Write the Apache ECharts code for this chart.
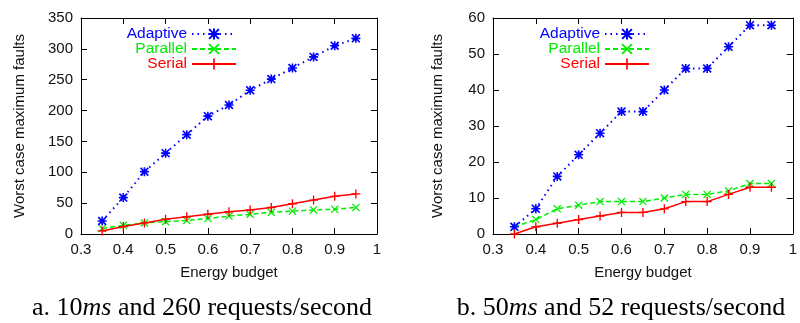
<!DOCTYPE html>
<html>
<head>
<meta charset="utf-8">
<script src="https://cdn.jsdelivr.net/npm/echarts@6/dist/echarts.min.js"></script>
<style>
html,body{margin:0;padding:0;background:#fff;}
#chart{width:800px;height:323px;}
</style>
</head>
<body>
<div id="chart"></div>
<script>
const energyBudget = [0.35, 0.4, 0.45, 0.5, 0.55, 0.6, 0.65, 0.7, 0.75, 0.8, 0.85, 0.9, 0.95];
// Panel a: 10ms and 260 requests/second
const adaptiveA = [21, 59, 101, 131, 161, 191, 209, 233, 251, 269, 287, 305, 317];
const parallelA = [9, 14, 18, 20, 22, 25, 29, 32, 35, 37, 39, 40, 43];
const serialA   = [5, 12, 18, 24, 28, 32, 36, 39, 43, 49, 55, 61, 65];
// Panel b: 50ms and 52 requests/second
const adaptiveB = [2, 7, 16, 22, 28, 34, 34, 40, 46, 46, 52, 58, 58];
const parallelB = [2, 4, 7, 8, 9, 9, 9, 10, 11, 11, 12, 14, 14];
const serialB   = [0, 2, 3, 4, 5, 6, 6, 7, 9, 9, 11, 13, 13];
const seriesNames = ['Adaptive', 'Parallel', 'Serial'];
const xAxisName = 'Energy budget';
const yAxisName = 'Worst case maximum faults';
const captionA = ['a. 10', 'ms', ' and 260 requests/second'];
const captionB = ['b. 50', 'ms', ' and 52 requests/second'];

const FONT = '"Liberation Sans", Arial, Helvetica, sans-serif';
const SERIF = '"Liberation Serif", "Times New Roman", serif';
const BLUE = '#0000ff', GREEN = '#00ee00', RED = '#ff0000';
const PLUS = 'path://M4.25,0H5.75V10H4.25Z M0,4.25H10V5.75H0Z';
const CROSS = 'path://M1.1,0L10,8.9L8.9,10L0,1.1Z M8.9,0L10,1.1L1.1,10L0,8.9Z';
const STAR = 'path://M4.1,0H5.9V10H4.1Z M0,4.1H10V5.9H0Z M1.3,0L10,8.7L8.7,10L0,1.3Z M8.7,0L10,1.3L1.3,10L0,8.7Z';

function pts(vals) { return energyBudget.map((x, i) => [x, vals[i]]); }
const fmtX = v => String(Number(v.toFixed(1)));

function xAx(gi, pos, main) {
  return {
    type: 'value', gridIndex: gi, position: pos, min: 0.3, max: 1, interval: 0.1,
    axisLine: { show: true, onZero: false, lineStyle: { color: '#000', width: 1 } },
    axisTick: { show: true, inside: true, length: 6, lineStyle: { color: '#000' } },
    axisLabel: { show: main, margin: 8, color: '#111', fontFamily: FONT, fontSize: 15, formatter: fmtX },
    splitLine: { show: false },
    name: main ? xAxisName : '', nameLocation: 'middle', nameGap: 31,
    nameTextStyle: { color: '#111', fontFamily: FONT, fontSize: 15 }
  };
}
function yAx(gi, pos, main, max, interval, gap) {
  return {
    type: 'value', gridIndex: gi, position: pos, min: 0, max: max, interval: interval,
    axisLine: { show: true, onZero: false, lineStyle: { color: '#000', width: 1 } },
    axisTick: { show: true, inside: true, length: 6, lineStyle: { color: '#000' } },
    axisLabel: { show: main, margin: 8, color: '#111', fontFamily: FONT, fontSize: 15 },
    splitLine: { show: false },
    name: main ? yAxisName : '', nameLocation: 'middle', nameGap: gap || 52, nameRotate: 90,
    nameTextStyle: { color: '#111', fontFamily: FONT, fontSize: 15 }
  };
}
function mkSeries(gi, adaptive, parallel, serial) {
  return [
    { name: seriesNames[0], type: 'line', xAxisIndex: gi * 2, yAxisIndex: gi * 2, data: pts(adaptive),
      symbol: STAR, symbolSize: 9, itemStyle: { color: BLUE },
      lineStyle: { color: BLUE, width: 2, type: [1.5, 4] }, z: 3 },
    { name: seriesNames[1], type: 'line', xAxisIndex: gi * 2, yAxisIndex: gi * 2, data: pts(parallel),
      symbol: CROSS, symbolSize: 8, itemStyle: { color: GREEN },
      lineStyle: { color: GREEN, width: 1.5, type: [5, 3] }, z: 2 },
    { name: seriesNames[2], type: 'line', xAxisIndex: gi * 2, yAxisIndex: gi * 2, data: pts(serial),
      symbol: PLUS, symbolSize: 9, itemStyle: { color: RED },
      lineStyle: { color: RED, width: 1.5, type: 'solid' }, z: 4 }
  ];
}
function mkLegend(right) {
  const cols = [BLUE, GREEN, RED];
  return {
    orient: 'vertical', align: 'right', right: right, top: 26, padding: 0,
    itemWidth: 44, itemHeight: 14, itemGap: -1,
    selectedMode: false,
    textStyle: { fontFamily: FONT, fontSize: 15.5, lineHeight: 14 },
    data: seriesNames.map((n, i) => ({ name: n, textStyle: { color: cols[i] } }))
  };
}
function caption(x, parts) {
  return {
    type: 'text', x: x, y: 308,
    style: {
      x: 0, y: 0, align: 'center', verticalAlign: 'middle',
      text: '{r|' + parts[0] + '}{i|' + parts[1] + '}{r|' + parts[2] + '}',
      rich: {
        r: { fontFamily: SERIF, fontSize: 26, fill: '#000' },
        i: { fontFamily: SERIF, fontSize: 26, fontStyle: 'italic', fill: '#000' }
      }
    }
  };
}

const chart = echarts.init(document.getElementById('chart'), null, { renderer: 'canvas' });
chart.setOption({
  animation: false,
  backgroundColor: '#fff',
  grid: [
    { left: 81, top: 18, width: 296, height: 216 },
    { left: 493, top: 18, width: 307, height: 216 }
  ],
  xAxis: [xAx(0, 'bottom', true), xAx(0, 'top', false), xAx(1, 'bottom', true), xAx(1, 'top', false)],
  yAxis: [yAx(0, 'left', true, 350, 50, 54), yAx(0, 'right', false, 350, 50),
          yAx(1, 'left', true, 60, 10, 48), yAx(1, 'right', false, 60, 10)],
  legend: [mkLegend(563), mkLegend(150)],
  series: [].concat(mkSeries(0, adaptiveA, parallelA, serialA), mkSeries(1, adaptiveB, parallelB, serialB)),
  graphic: [caption(202, captionA), caption(621, captionB)]
});
</script>
</body>
</html>
